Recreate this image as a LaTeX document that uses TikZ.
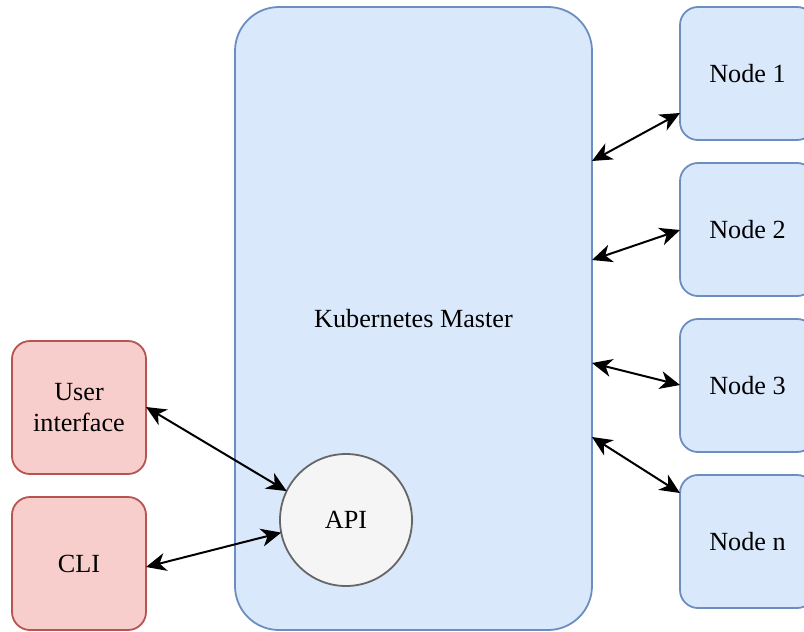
\documentclass[tikz,border=0pt]{standalone}
\usepackage{fontspec}
\setmainfont{Liberation Serif}
\usetikzlibrary{arrows.meta, positioning}
\definecolor{bluefill}{HTML}{DAE8FC}
\definecolor{blueline}{HTML}{6C8EBF}
\definecolor{redfill}{HTML}{F8CECC}
\definecolor{redline}{HTML}{B85450}
\definecolor{greyfill}{HTML}{F5F5F5}
\definecolor{greyline}{HTML}{666666}
\tikzset{
    node distance = 11.5pt,
    every node/.style = {font=\fontsize{13.1}{15}\selectfont, align=center, inner sep=0pt, outer sep=0pt},
    master/.style = {draw=blueline, fill=bluefill, line width=0.9pt, rounded corners=22pt,
                     minimum width=178.5pt, minimum height=311.5pt},
    worker/.style = {draw=blueline, fill=bluefill, line width=0.9pt, rounded corners=9pt,
                     minimum width=67.5pt, minimum height=66.5pt},
    client/.style = {draw=redline, fill=redfill, line width=0.9pt, rounded corners=9pt,
                     minimum width=67pt, minimum height=66.5pt},
    api/.style = {circle, draw=greyline, fill=greyfill, line width=0.9pt, minimum size=66pt},
    link/.style = {{Stealth[length=10pt, width=9pt, inset=3pt]}-{Stealth[length=10pt, width=9pt, inset=3pt]}, line width=1pt}
}

\begin{document}
\begin{tikzpicture}[x=0.5pt, y=-0.5pt]
  \useasboundingbox (0,0) rectangle (804,632);
  \clip (0,0) rectangle (804,632);

  % master and its API
  \node[master] (km) at (413.5,318.5) {Kubernetes Master};
  \node[api] (api) at (346,520) {API};

  % worker nodes
  \node[worker] (n1) at (747.5,73.5) {Node 1};
  \node[worker, below=of n1] (n2) {Node 2};
  \node[worker, below=of n2] (n3) {Node 3};
  \node[worker, below=of n3] (nn) {Node n};

  % clients
  \node[client] (ui) at (79,407.5) {User\\[0.5pt]interface};
  \node[client, below=of ui] (cli) {CLI};

  \draw[link] (km.east |- 0,161) -- (n1.west |- 0,113);
  \draw[link] (km.east |- 0,260) -- (n2.west |- 0,230);
  \draw[link] (km.east |- 0,363) -- (n3.west |- 0,385);
  \draw[link] (km.east |- 0,437) -- (nn.west |- 0,493);
  \draw[link] (ui.east |- 0,407) -- (api.154);
  \draw[link] (cli.east |- 0,567) -- (api.191);
\end{tikzpicture}
\end{document}
